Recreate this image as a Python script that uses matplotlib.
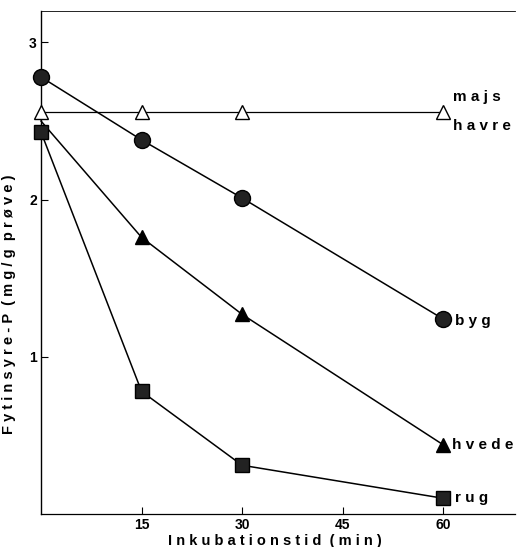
import matplotlib.pyplot as plt
import numpy as np

# inkubationstid (min)
tid = [0, 15, 30, 60]

# fytinsyre-P (mg/g prøve)
majs_havre = [2.56, 2.56, 2.56, 2.56]
byg = [2.78, 2.38, 2.01, 1.24]
hvede = [2.50, 1.76, 1.27, 0.44]
rug = [2.43, 0.78, 0.31, 0.10]

x_ticks = [15, 30, 45, 60]
y_ticks = [1, 2, 3]

plt.rcParams['font.family'] = ['Liberation Sans', 'DejaVu Sans']

fig = plt.figure(figsize=(5.21, 5.47), dpi=100)
ax = fig.add_axes([41 / 521, 33 / 547, 474 / 521, 503 / 547])

lw = 1.1
ax.plot(tid, majs_havre, color='black', lw=0.9, marker='^', ms=10,
        mfc='white', mec='black', mew=1.0, zorder=3, clip_on=False)
ax.plot(tid, hvede, color='black', lw=lw, marker='^', ms=10,
        mfc='black', mec='black', markevery=[1, 2, 3], zorder=3, clip_on=False)
ax.plot(tid, rug, color='black', lw=lw, marker='s', ms=10.5,
        mfc='#222222', mec='black', zorder=4, clip_on=False)
ax.plot(tid, byg, color='black', lw=lw, marker='o', ms=11.5,
        mfc='#222222', mec='black', zorder=4, clip_on=False)

lab = dict(fontsize=11, fontweight='bold', va='center', ha='left')
ax.text(61.5, 2.65, 'm a j s', **lab)
ax.text(61.5, 2.47, 'h a v r e', **lab)
ax.text(61.8, 1.23, 'b y g', **lab)
ax.text(61.3, 0.44, 'h v e d e', **lab)
ax.text(61.8, 0.10, 'r u g', **lab)

ax.set_xlim(0, 70.7)
ax.set_ylim(0, 3.2)
ax.set_xticks(x_ticks)
ax.set_yticks(y_ticks)
ax.tick_params(direction='in', length=5, width=0.8, labelsize=10, pad=3)
for t in ax.get_xticklabels() + ax.get_yticklabels():
    t.set_fontweight('bold')

ax.spines['right'].set_visible(False)
ax.spines['top'].set_linewidth(0.6)
ax.spines['top'].set_linestyle((0, (4, 1)))
ax.spines['left'].set_linewidth(1.0)
ax.spines['bottom'].set_linewidth(0.9)

ax.set_xlabel('I n k u b a t i o n s t i d  ( m i n )', fontsize=10.5,
              fontweight='bold')
ax.set_ylabel('F y t i n s y r e - P  ( m g / g  p r ø v e )', fontsize=10.5,
              fontweight='bold')
ax.xaxis.set_label_coords(0.494, -0.04)
ax.yaxis.set_label_coords(-0.053, 0.417)

fig.savefig('out.png', dpi=100)
